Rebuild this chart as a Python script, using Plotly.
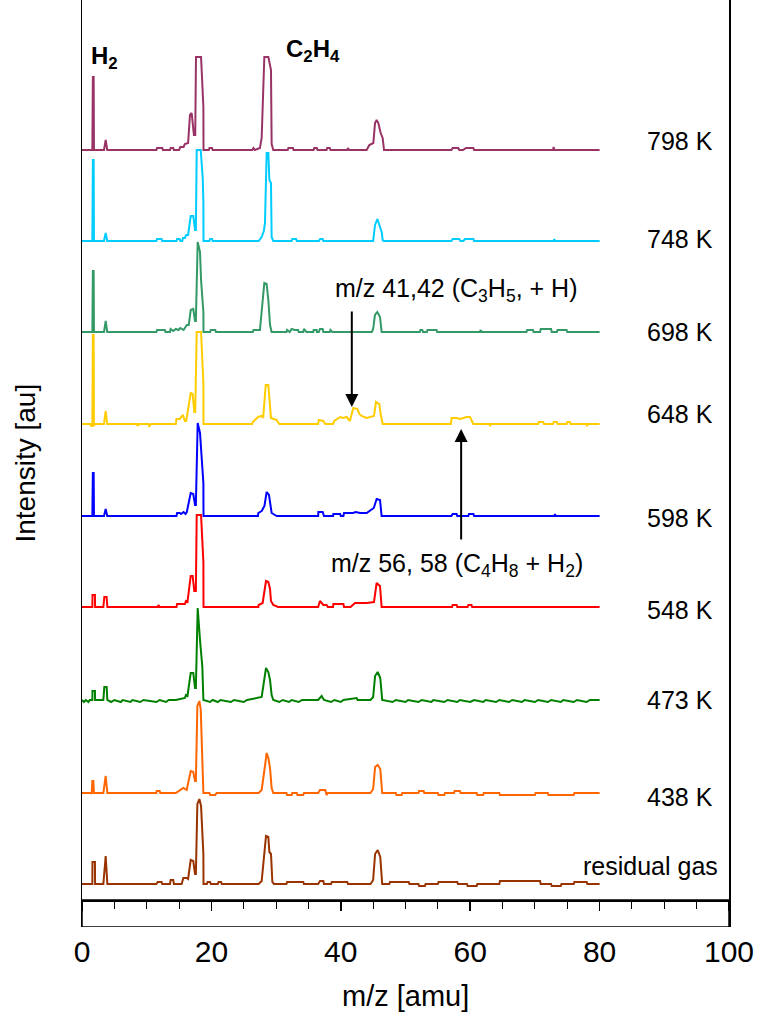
import plotly.graph_objects as go

# ---------------- data (m/z [amu], intensity [a.u.]) ----------------
LABELS = ["residual gas", "438 K", "473 K", "548 K", "598 K", "648 K", "698 K", "748 K", "798 K"]
COLORS = ["#993300", "#FF6600", "#008000", "#FF0000", "#0000FF", "#FFCC00", "#339966", "#00CCFF", "#993366"]
OFFSETS = [0, 91, 184, 277, 368, 460, 552, 643, 734]
LABEL_Y = [18, 87, 184, 274, 366, 470, 552, 645, 743]

S_RES = [(0,0),(1.6,0),(1.62,22),(2.0,22),(2.02,0),(3.3,0),(3.66,28),(3.92,0),
         (11.5,0),(11.7,2),(12.3,2),(12.4,0),(13.6,0),(13.7,4),(14.1,4),(14.2,0),(15.4,0),(15.66,6),(16.18,6),(16.4,5),
         (16.8,24),(17.2,23),(17.47,10),(17.6,10),(17.83,80),(18.14,85),(18.4,78),(18.76,30),(18.78,0),
         (19.3,0),(19.4,2),(19.8,2),(19.9,0),(21.0,0),(21.1,2),(21.5,2),(21.6,0),(27.3,0),(27.77,3),(28.44,48),(28.8,47),
         (28.96,32),(29.21,30),(29.42,2),(29.67,0),
         (31.6,0),(31.7,2),(34.2,2),(34.3,0),(36.5,0),(36.79,3),(37.3,3),(37.4,0),(38.5,0),(38.6,2),(41.0,2),(41.1,0),
         (44.6,0),(45.0,4),(45.3,30),(45.7,34),(46.1,27),(46.4,0),
         (47.5,0),(47.6,2),(50.5,2),(50.6,0),(52.0,0),(52.1,-2),(53.0,-2),(53.1,0),(55.0,0),(55.1,2),(58.0,2),(58.1,0),
         (59.5,0),(59.6,-2),(61.0,-2),(61.1,0),(64.5,0),(64.6,3),(70.8,3),(70.9,0),(72.5,0),(72.6,-2),(74.0,-2),(74.1,0),
         (76.0,0),(76.1,2),(78.0,2),(78.1,0),(80,0)]

S438 = [(0,0),(1.4,0),(1.5,-1),(1.6,12),(1.75,12),(1.85,0),(3.3,0),(3.66,17),(3.92,0),
        (11.5,0),(11.54,2),(12.0,2),(12.1,0),(14.5,0),(15.66,5),(16.18,3),(16.8,22),(17.2,21),(17.47,12),(17.6,12),
        (17.83,87),(18.14,92),(18.35,84),(18.66,32),(18.76,0),
        (19.7,0),(19.8,-2),(20.6,-2),(20.8,0),(27.3,0),(27.77,3),(28.28,27),(28.54,40),(28.8,35),(29.06,25),(29.31,5),(29.57,0),
        (31.6,0),(31.7,-2),(32.4,-2),(32.5,0),(33.2,0),(33.3,-2),(34.2,-2),(34.3,0),(36.5,0),(36.79,3),(37.6,3),(37.8,-2),(38.0,0),
        (44.6,0),(45.0,4),(45.3,26),(45.7,28),(46.1,24),(46.4,0),
        (48.5,0),(48.6,-2),(49.4,-2),(49.5,0),(52.0,0),(52.1,2),(52.8,2),(52.9,0),(55.0,0),(55.1,-2),(56.0,-2),(56.1,0),
        (57.5,0),(57.6,2),(58.4,2),(58.5,0),(61.0,0),(61.1,-2),(62.0,-2),(62.1,0),(64.5,0),(64.6,-2),(70.0,-2),(70.1,0),
        (72.0,0),(72.1,-2),(76.0,-2),(76.1,0),(80,0)]

S473 = [(0,0),(0.3,-2),(0.6,0),(1.0,-2),(1.2,0),(1.6,0),(1.62,9),(2.0,9),(2.02,0),(3.3,0),(3.45,13),(3.81,13),(3.92,0),
        (4.5,-2),(5.0,0),(6.0,-2),(6.3,0),(7.5,-2),(7.8,0),(9.0,-2),(9.5,0),(11.5,-2),(12.0,0),(13.0,-2),(13.4,0),
        (14.5,0),(15.9,2),(16.07,5),(16.3,4),(16.8,27),(17.2,27),(17.47,12),(17.6,12),(17.88,92),(18.24,60),(18.6,33),(18.76,0),
        (19.8,-2),(20.2,0),(21.0,-2),(21.4,0),(23.0,-2),(23.5,0),(25.0,-2),(25.5,0),(27.77,3),(28.44,32),(28.8,28),(29.06,20),
        (29.31,5),(29.57,0),
        (30.5,-2),(31.0,0),(32.0,-2),(32.4,0),(33.5,-2),(34.0,0),(36.5,0),(37.04,4),(37.4,0),(38.5,-2),(39.0,0),(40.0,-2),
        (40.4,0),(42.45,2),(42.6,0),(44.6,0),(45.0,3),(45.3,24),(45.7,28),(46.1,22),(46.4,0),
        (48.0,-2),(48.5,0),(50.0,-2),(50.4,0),(52.0,-2),(52.5,0),(54.0,-2),(54.3,0),(56.0,-2),(56.5,0),(58.0,-2),(58.4,0),
        (60.0,-2),(60.6,0),(62.0,-2),(62.4,0),(64.0,-2),(64.5,0),(66.0,-2),(66.5,0),(68.0,-2),(68.4,0),(70.0,-2),(70.5,0),
        (72.0,-2),(72.5,0),(74.0,-2),(74.4,0),(76.0,-2),(76.5,0),(78.0,-2),(78.5,0),(80,0)]

S548 = [(0,0),(1.6,0),(1.62,12),(2.0,12),(2.02,0),(3.3,0),(3.45,10),(3.8,10),(3.92,0),
        (11.7,0),(11.8,2),(12.0,0),(14.6,0),(14.7,3),(15.9,3),(16.07,6),(16.3,5),(16.8,31),(17.1,31),(17.36,16),(17.6,16),
        (17.73,92),(18.4,92),(18.76,45),(18.78,0),
        (27.25,0),(27.3,2),(27.92,4),(28.44,26),(28.8,25),(29.06,18),(29.21,6),(29.57,2),(30.3,0),
        (36.5,0),(36.78,6),(37.3,2),(37.8,2),(38.0,0),(38.8,0),(38.85,3),(40.4,3),(40.5,0),(41.5,0),(42.2,4),(44.0,4),
        (45.13,5),(45.54,24),(46.06,21),(46.31,0),
        (57.2,0),(57.29,2),(57.91,2),(58.0,0),(59.6,0),(59.71,2),(60.2,2),(60.3,0),(80,0)]

S598 = [(0,0),(1.6,0),(1.68,43),(1.8,43),(1.85,0),(3.4,0),(3.66,7),(3.9,0),
        (14.6,0),(14.7,3),(15.1,3),(15.3,2),(15.7,4),(16.0,2),(16.2,4),(16.8,23),(17.2,22),(17.47,11),(17.6,11),
        (17.88,93),(18.24,83),(18.5,53),(18.76,33),(18.78,0),
        (27.2,0),(27.25,3),(27.77,5),(28.2,10),(28.54,24),(28.9,21),(29.06,14),(29.31,3),(30.1,0),
        (36.5,0),(36.53,4),(37.2,4),(37.4,0),(38.8,0),(38.85,2),(39.9,2),(40.0,0),(40.4,0),(40.5,3),(41.9,3),(42.3,4),
        (43.0,3),(44.0,3),(45.1,8),(45.54,17),(46.06,16),(46.31,0),
        (57.1,0),(57.29,2),(57.9,2),(58.0,0),(59.7,0),(59.8,2),(60.5,2),(60.6,0),(73.0,0),(73.1,2),(73.2,0),(80,0)]

S648 = [(0,0),(1.3,0),(1.4,-2),(1.6,-2),(1.68,89),(1.8,89),(1.85,-2),(2.0,0),(3.4,0),(3.66,13),(3.9,0),
        (8.5,0),(8.6,-2),(8.8,0),(10.3,0),(10.4,-2),(10.7,0),
        (14.5,0),(14.6,5),(15.1,5),(15.6,9),(15.9,3),(16.1,3),(16.8,31),(17.1,30),(17.36,12),(17.5,12),(17.73,92),(18.4,92),
        (18.76,41),(18.78,0),
        (26.3,0),(26.4,2),(27.2,7),(27.8,8),(28.0,6),(28.4,39),(28.8,39),(28.96,26),(29.21,6),(30.09,4),(30.5,0),
        (36.5,0),(36.6,4),(37.3,3),(37.6,0),(38.8,0),(39.0,3),(39.9,7),(40.4,6),(40.9,7),(41.4,3),(41.94,16),(42.56,15),
        (42.87,10),(43.22,8),(44.0,6),(45.13,8),(45.44,22),(45.95,20),(46.21,8),(46.47,0),
        (57.0,0),(57.13,6),(57.91,6),(58.42,5),(59.46,7),(59.97,7),(60.48,0),
        (63.0,0),(63.06,-2),(63.2,0),(70.5,0),(70.6,2),(71.3,2),(71.4,0),(72.8,0),(72.9,2),(73.4,2),(73.5,0),(74.9,0),(75.0,2),
        (75.4,2),(75.5,0),(78.0,0),(78.05,-2),(78.2,0),(80,0)]

S698 = [(0,0),(1.6,0),(1.68,61),(1.8,61),(1.85,0),(3.4,0),(3.66,11),(3.9,0),
        (11.5,0),(11.6,2),(12.8,2),(12.9,0),(13.6,0),(13.7,3),(14.1,1),(14.5,3),(14.9,2),(15.2,4),(15.7,2),(16.2,7),(16.5,7),
        (16.8,22),(17.2,23),(17.47,11),(17.6,11),(17.88,90),(18.24,80),(18.4,52),(18.76,20),(18.78,0),
        (19.8,0),(19.9,2),(20.6,2),(20.7,0),(26.4,0),(26.5,2),(27.5,2),(28.18,49),(28.54,48),(28.8,32),(29.06,7),(29.31,0),
        (31.6,0),(31.7,2),(32.1,0),(32.4,3),(32.9,2),(33.4,2),(33.5,0),(34.2,0),(34.3,3),(34.7,0),
        (35.75,0),(35.8,2),(36.27,2),(36.3,0),(36.6,0),(36.78,3),(37.2,3),(37.3,0),(38.3,0),(38.4,2),(38.7,0),
        (44.8,0),(45.0,3),(45.28,17),(45.64,20),(46.06,15),(46.31,0),
        (52.2,0),(52.3,2),(52.6,2),(52.7,0),(53.3,0),(53.4,2),(54.8,2),(54.9,0),(61.5,0),(61.6,2),(61.8,0),(68.7,0),(68.8,2),
        (69.7,2),(69.8,0),(70.8,0),(70.9,3),(72.5,3),(72.6,0),(73.4,0),(73.5,2),(74.9,2),(75.0,0),(80,0)]

S748 = [(0,0),(1.6,0),(1.68,81),(1.8,81),(1.85,0),(3.4,0),(3.66,8),(3.9,0),
        (11.5,0),(11.6,2),(12.3,2),(12.4,0),(14.6,0),(14.7,2),(15.1,2),(15.2,0),(15.5,0),(15.6,3),(15.9,3),(16.1,6),(16.4,6),
        (16.8,25),(17.2,25),(17.47,11),(17.6,11),(17.73,91),(18.35,91),(18.66,63),(18.76,39),(18.78,0),
        (19.7,0),(19.8,2),(20.1,2),(20.2,0),(27.3,0),(27.77,4),(28.1,10),(28.28,18),(28.54,88),(28.8,88),(28.96,61),
        (29.21,58),(29.31,4),(29.57,0),
        (32.4,0),(32.5,2),(33.1,2),(33.2,0),(36.6,0),(36.8,2),(37.2,2),(37.3,0),
        (45.0,0),(45.03,2),(45.29,16),(45.65,22),(45.95,16),(46.32,9),(46.47,1),(46.6,0),
        (57.1,0),(57.29,2),(58.3,2),(58.5,0),(58.94,0),(59.2,2),(60.49,2),(60.6,0),(72.9,0),(73.0,2),(73.1,0),(80,0)]

S798 = [(0,0),(1.6,0),(1.68,73),(1.8,73),(1.85,0),(3.4,0),(3.66,10),(3.9,0),
        (11.5,0),(11.6,2),(12.4,2),(12.5,0),(13.6,0),(13.7,2),(14.1,2),(14.2,0),(15.0,0),(15.2,3),(15.7,3),(15.9,6),(16.4,7),
        (16.69,35),(16.95,37),(17.1,23),(17.3,15),(17.5,15),(17.62,93),(18.4,93),(18.76,43),(18.78,0),
        (19.6,0),(19.7,2),(20.1,2),(20.2,0),(26.3,0),(26.5,2),(26.7,0),(27.5,2),(27.77,12),(28.18,93),(28.8,93),(29.21,80),
        (29.31,6),(29.57,0),
        (31.8,0),(31.9,2),(32.6,2),(32.7,0),(35.8,0),(35.9,2),(36.3,2),(36.4,0),(37.8,0),(37.9,2),(38.3,2),(38.4,0),
        (41.0,0),(41.1,2),(41.3,0),(44.0,0),(44.41,5),(45.03,7),(45.29,27),(45.54,30),(45.8,27),(46.16,17),(46.47,12),(46.68,0),
        (57.1,0),(57.29,2),(58.16,2),(58.3,0),(58.9,0),(59.35,2),(60.49,2),(60.6,0),(72.8,0),(72.9,3),(73.0,0),(80,0)]

SPECTRA = [S_RES, S438, S473, S548, S598, S648, S698, S748, S798]

X_TICKS = [0, 20, 40, 60, 80, 100]

FONT = "Liberation Sans, Arial, sans-serif"

fig = go.Figure()
for spec, color, off in zip(SPECTRA, COLORS, OFFSETS):
    fig.add_trace(go.Scatter(
        x=[p[0] for p in spec], y=[p[1] + off for p in spec],
        mode="lines", line=dict(color=color, width=2), showlegend=False, hoverinfo="skip"))

# dummy trace bound to the tick axis so that it is drawn
fig.add_trace(go.Scatter(x=[0, 100], y=[None, None], xaxis="x2", mode="lines", showlegend=False,
                         hoverinfo="skip"))

Y_MIN, Y_MAX = -43, 884
AXIS_Y = -16

fig.update_layout(
    width=759, height=1013,
    margin=dict(l=82, r=30, t=0, b=86),
    paper_bgcolor="white", plot_bgcolor="white",
    font=dict(family=FONT, color="black"),
    hovermode=False,
    xaxis=dict(range=[0, 100], tickvals=X_TICKS, ticks="", showgrid=False, zeroline=False,
               showline=False, tickfont=dict(size=30, family=FONT), ticklabelstandoff=4),
    xaxis2=dict(range=[0, 100], overlaying="x", anchor="free", side="bottom",
                position=(AXIS_Y - Y_MIN) / (Y_MAX - Y_MIN),
                showline=True, linecolor="black", linewidth=1.5,
                ticks="outside", tick0=0, dtick=20, ticklen=9, tickwidth=1.5, tickcolor="black",
                minor=dict(ticks="outside", dtick=5, ticklen=7, tickwidth=1, tickcolor="black"),
                showticklabels=False, showgrid=False, zeroline=False),
    yaxis=dict(range=[Y_MIN, Y_MAX], showticklabels=False, ticks="", showgrid=False, zeroline=False,
               showline=True, mirror=True, linecolor="black", linewidth=1.5),
)

# bottom box below the tick axis
fig.add_shape(type="rect", xref="x domain", yref="y", x0=0, x1=1, y0=Y_MIN, y1=AXIS_Y,
              line=dict(color="black", width=1.5))

anns = []
for lab, ly in zip(LABELS, LABEL_Y):
    anns.append(dict(x=98.6 if lab == "residual gas" else 97.8, y=ly, xref="x", yref="y", text=lab,
                     showarrow=False, xanchor="right", yanchor="middle", font=dict(size=25, family=FONT)))

anns += [
    dict(x=3.55, y=827, xref="x", yref="y", text="<b>H<sub>2</sub></b>", showarrow=False,
         font=dict(size=24, family=FONT)),
    dict(x=35.7, y=834, xref="x", yref="y", text="<b>C<sub>2</sub>H<sub>4</sub></b>", showarrow=False,
         font=dict(size=24, family=FONT)),
    dict(x=57.8, y=594, xref="x", yref="y", text="m/z 41,42 (C<sub>3</sub>H<sub>5</sub>, + H)",
         showarrow=False, font=dict(size=25, family=FONT)),
    dict(x=58.0, y=319, xref="x", yref="y", text="m/z 56, 58 (C<sub>4</sub>H<sub>8</sub> + H<sub>2</sub>)",
         showarrow=False, font=dict(size=25, family=FONT)),
    dict(x=41.7, y=477, xref="x", yref="y", ax=41.7, ay=574, axref="x", ayref="y", text="",
         showarrow=True, arrowhead=2, arrowsize=1.3, arrowwidth=2, arrowcolor="black"),
    dict(x=58.6, y=455, xref="x", yref="y", ax=58.6, ay=343, axref="x", ayref="y", text="",
         showarrow=True, arrowhead=2, arrowsize=1.3, arrowwidth=2, arrowcolor="black"),
    dict(x=0.5, y=-0.074, xref="paper", yref="paper", text="m/z [amu]", showarrow=False,
         yanchor="middle", font=dict(size=29, family=FONT)),
    dict(x=-0.088, y=0.5, xref="paper", yref="paper", text="Intensity [au]", showarrow=False,
         textangle=-90, xanchor="center", yanchor="middle", font=dict(size=28, family=FONT)),
]
fig.update_layout(annotations=anns)

# remove the browser's default page margin so the figure sits at the window's corner
fig.write_html("out.html", config={"displayModeBar": False, "staticPlot": True},
               post_script="document.body.style.margin='0';document.body.style.overflow='hidden';")
